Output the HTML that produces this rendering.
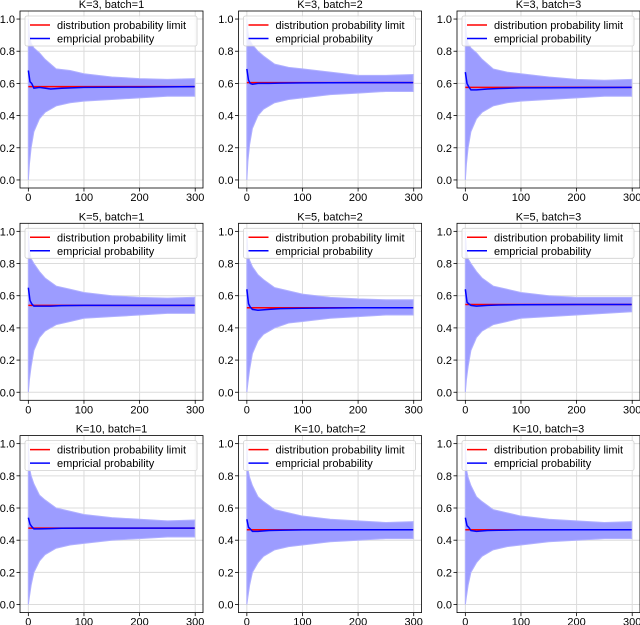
<!DOCTYPE html>
<html><head><meta charset="utf-8"><style>
body{margin:0;background:#fff;}
svg{display:block;font-family:"Liberation Sans","DejaVu Sans",sans-serif;}
</style></head><body>
<svg id="fig" width="640" height="625"></svg>
<script>
const titles=["K=3, batch=1","K=3, batch=2","K=3, batch=3","K=5, batch=1","K=5, batch=2","K=5, batch=3","K=10, batch=1","K=10, batch=2","K=10, batch=3"];
const limits=[0.58,0.605,0.575,0.54,0.525,0.545,0.475,0.465,0.465];
const bandX=[0,2,5,10,20,30,50,75,100,150,200,250,299];
const bandUpper=[
[1.0,0.9,0.85,0.82,0.79,0.75,0.69,0.68,0.66,0.64,0.63,0.625,0.63],
[1.0,0.92,0.87,0.84,0.8,0.77,0.72,0.7,0.69,0.67,0.65,0.65,0.655],
[1.0,0.9,0.85,0.82,0.79,0.75,0.69,0.67,0.66,0.64,0.625,0.62,0.625],
[1.0,0.88,0.83,0.8,0.75,0.71,0.66,0.64,0.62,0.6,0.59,0.585,0.59],
[1.0,0.86,0.82,0.78,0.73,0.7,0.65,0.63,0.61,0.59,0.58,0.575,0.575],
[1.0,0.88,0.83,0.8,0.75,0.71,0.66,0.64,0.62,0.6,0.59,0.59,0.59],
[1.0,0.85,0.8,0.75,0.68,0.65,0.6,0.58,0.56,0.54,0.53,0.52,0.525],
[1.0,0.84,0.79,0.74,0.67,0.64,0.59,0.57,0.55,0.53,0.52,0.51,0.515],
[1.0,0.84,0.79,0.74,0.67,0.64,0.59,0.57,0.55,0.53,0.52,0.51,0.515]];
const bandLower=[
[0.0,0.1,0.2,0.3,0.38,0.42,0.46,0.48,0.49,0.5,0.51,0.52,0.52],
[0.0,0.12,0.22,0.32,0.4,0.44,0.48,0.5,0.51,0.53,0.54,0.55,0.55],
[0.0,0.1,0.2,0.3,0.38,0.42,0.46,0.48,0.49,0.5,0.51,0.52,0.52],
[0.0,0.08,0.16,0.26,0.34,0.38,0.42,0.44,0.46,0.47,0.48,0.49,0.49],
[0.0,0.06,0.14,0.24,0.32,0.36,0.4,0.43,0.44,0.46,0.47,0.48,0.48],
[0.0,0.08,0.16,0.26,0.34,0.38,0.42,0.44,0.46,0.47,0.48,0.49,0.5],
[0.0,0.05,0.12,0.2,0.27,0.31,0.35,0.37,0.38,0.4,0.41,0.42,0.42],
[0.0,0.05,0.12,0.2,0.26,0.3,0.34,0.36,0.37,0.39,0.4,0.41,0.41],
[0.0,0.05,0.12,0.2,0.26,0.3,0.34,0.36,0.37,0.39,0.4,0.41,0.41]];
const empX=[0,3,6,10,20,40,60,100,200,299];
const empY=[
[0.68,0.61,0.6,0.57,0.575,0.565,0.57,0.575,0.577,0.58],
[0.69,0.62,0.6,0.595,0.6,0.6,0.602,0.603,0.605,0.605],
[0.67,0.6,0.58,0.56,0.56,0.565,0.568,0.572,0.574,0.575],
[0.65,0.57,0.55,0.535,0.535,0.535,0.538,0.54,0.54,0.54],
[0.64,0.55,0.53,0.515,0.51,0.515,0.52,0.522,0.525,0.525],
[0.64,0.56,0.55,0.54,0.535,0.54,0.542,0.544,0.545,0.545],
[0.54,0.5,0.485,0.47,0.47,0.472,0.474,0.475,0.475,0.475],
[0.53,0.48,0.47,0.455,0.455,0.46,0.462,0.464,0.465,0.465],
[0.54,0.49,0.48,0.46,0.455,0.46,0.462,0.464,0.465,0.465]];
const yTicks=[0,0.2,0.4,0.6,0.8,1.0];
const yTickLabels=["0.0","0.2","0.4","0.6","0.8","1.0"];
const xTicks=[0,100,200,300];

const NS="http://www.w3.org/2000/svg";
const fig=document.getElementById('fig');
function mk(tag,attrs,parent){const e=document.createElementNS(NS,tag);for(const k in attrs)e.setAttribute(k,attrs[k]);parent.appendChild(e);return e;}
const colL=[20,238.5,457], rowT=[11,223.3,435.6], W=183, H=177;
for(let p=0;p<9;p++){
  const L=colL[p%3], T=rowT[Math.floor(p/3)];
  const g=mk('g',{},fig);
  
  
  const xs=v=>L+(v+15)/329*W;
  const ys=v=>T+(1.05-v)/1.1*H;
  yTicks.forEach((t,i)=>{
    const gl=mk('line',{x1:L,x2:L+W,y1:ys(t),y2:ys(t),stroke:'#dcdcdc','stroke-width':1},g);
    
    
    mk('line',{x1:L-3.5,x2:L,y1:ys(t),y2:ys(t),stroke:'#000','stroke-width':0.8},g);
    const tx=mk('text',{x:L-5,y:ys(t)+4,'text-anchor':'end','font-size':11},g);
    tx.textContent=yTickLabels[i];
    
    
  });
  xTicks.forEach(t=>{
    const gl=mk('line',{x1:xs(t),x2:xs(t),y1:T,y2:T+H,stroke:'#dcdcdc','stroke-width':1},g);
    
    
    mk('line',{x1:xs(t),x2:xs(t),y1:T+H,y2:T+H+3.5,stroke:'#000','stroke-width':0.8},g);
    const tx=mk('text',{x:xs(t),y:T+H+13,'text-anchor':'middle','font-size':11},g);
    tx.textContent=t;
    
    
  });
  let pts=bandX.map((x,i)=>xs(x)+','+ys(bandUpper[p][i]));
  for(let i=bandX.length-1;i>=0;i--)pts.push(xs(bandX[i])+','+ys(bandLower[p][i]));
  const band=mk('polygon',{points:pts.join(' '),fill:'#9c9cff',stroke:'#b0b0ff','stroke-width':1},g);
  
  
  const lim=mk('line',{x1:xs(0),x2:xs(299),y1:ys(limits[p]),y2:ys(limits[p]),stroke:'#ff0000','stroke-width':1.5},g);
  
  
  const emp=mk('polyline',{points:empX.map((x,i)=>xs(x)+','+ys(empY[p][i])).join(' '),fill:'none',stroke:'#0000ff','stroke-width':1.5},g);
  
  
  const fr=mk('rect',{x:L,y:T,width:W,height:H,fill:'none',stroke:'#000','stroke-width':0.8},g);
  
  
  const ti=mk('text',{x:L+W/2,y:T-3,'text-anchor':'middle','font-size':11},g);
  ti.textContent=titles[p];
  
  
  const lg=mk('g',{},g);
  
  
  mk('rect',{x:L+5,y:T+5,width:172,height:30,rx:2,fill:'#fff','fill-opacity':0.8,stroke:'#d0d0d0','stroke-width':0.8},lg);
  mk('line',{x1:L+10,x2:L+30,y1:T+14,y2:T+14,stroke:'#ff0000','stroke-width':1.5},lg);
  mk('line',{x1:L+10,x2:L+30,y1:T+27.5,y2:T+27.5,stroke:'#0000ff','stroke-width':1.5},lg);
  const t1=mk('text',{x:L+37,y:T+18,'font-size':11},lg);t1.textContent='distribution probability limit';
  
  
  const t2=mk('text',{x:L+37,y:T+31.5,'font-size':11},lg);t2.textContent='empricial probability';
  
  
}
</script>
</body></html>
